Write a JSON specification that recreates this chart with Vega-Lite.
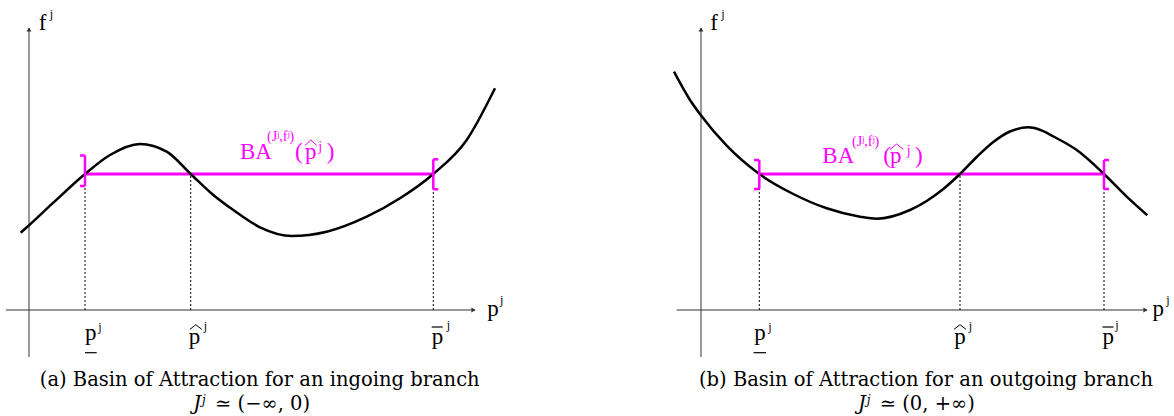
{
  "$schema": "https://vega.github.io/schema/vega-lite/v6.json",
  "padding": 0,
  "spacing": 120,
  "background": "white",
  "config": {"view": {"stroke": null}},
  "datasets": {
    "a": [
      {"k": "axis", "p": -2.3, "f": 0, "p2": 44.6, "f2": 0},
      {"k": "axis", "p": 0, "f": -4.7, "p2": 0, "f2": 28.2},
      {"k": "arr_r", "p": 44.45, "f": 0},
      {"k": "arr_u", "p": 0, "f": 28.05},
      {"k": "dot", "p": 5.6, "f": 0, "p2": 5.6, "f2": 13.6},
      {"k": "dot", "p": 16.17, "f": 0, "p2": 16.17, "f2": 13.6},
      {"k": "dot", "p": 40.43, "f": 0, "p2": 40.43, "f2": 13.6},
      {"k": "ba", "p": 5.6, "f": 13.6, "p2": 40.43, "f2": 13.6},
      {"k": "brk", "p": 5.6, "f": 12.4, "p2": 5.6, "f2": 15.45},
      {"k": "brk", "p": 5.1, "f": 15.45, "p2": 5.6, "f2": 15.45},
      {"k": "brk", "p": 5.1, "f": 12.4, "p2": 5.6, "f2": 12.4},
      {"k": "brk", "p": 40.43, "f": 12.07, "p2": 40.43, "f2": 15.07},
      {"k": "brk", "p": 40.43, "f": 15.07, "p2": 40.93, "f2": 15.07},
      {"k": "brk", "p": 40.43, "f": 12.07, "p2": 40.93, "f2": 12.07},
      {"k": "curve", "p": -0.83, "f": 7.73},
      {"k": "curve", "p": 0.03, "f": 8.5},
      {"k": "curve", "p": 2.43, "f": 10.73},
      {"k": "curve", "p": 5.6, "f": 13.6},
      {"k": "curve", "p": 8.1, "f": 15.5},
      {"k": "curve", "p": 11.1, "f": 16.6},
      {"k": "curve", "p": 13.77, "f": 15.83},
      {"k": "curve", "p": 16.17, "f": 13.6},
      {"k": "curve", "p": 18.43, "f": 11.5},
      {"k": "curve", "p": 20.43, "f": 10.0},
      {"k": "curve", "p": 23.1, "f": 8.27},
      {"k": "curve", "p": 26.27, "f": 7.4},
      {"k": "curve", "p": 29.77, "f": 7.83},
      {"k": "curve", "p": 33.77, "f": 9.33},
      {"k": "curve", "p": 37.1, "f": 11.17},
      {"k": "curve", "p": 40.43, "f": 13.6},
      {"k": "curve", "p": 43.77, "f": 17.0},
      {"k": "curve", "p": 46.6, "f": 22.17},
      {"k": "deco", "p": 5.6, "f": -4.27, "p2": 6.77, "f2": -4.27},
      {"k": "deco", "p": 40.27, "f": -1.7, "p2": 41.37, "f2": -1.7},
      {"k": "hat", "id": "h1", "p": 16.1, "f": -1.93},
      {"k": "hat", "id": "h1", "p": 16.68, "f": -1.47},
      {"k": "hat", "id": "h1", "p": 17.27, "f": -1.93},
      {"k": "hatm", "id": "h2", "p": 27.6, "f": 16.45},
      {"k": "hatm", "id": "h2", "p": 28.18, "f": 17.0},
      {"k": "hatm", "id": "h2", "p": 28.77, "f": 16.45},
      {"k": "lbl", "t": "f", "p": 1.35, "f": 28.0},
      {"k": "lbl", "t": "p", "p": 46.4, "f": -0.6},
      {"k": "lbl", "t": "p", "p": 6.18, "f": -3.0},
      {"k": "lbl", "t": "p", "p": 16.55, "f": -3.35},
      {"k": "lbl", "t": "p", "p": 40.85, "f": -3.35},
      {"k": "sup", "t": "j", "p": 2.23, "f": 29.23},
      {"k": "sup", "t": "j", "p": 47.27, "f": 0.62},
      {"k": "sup", "t": "j", "p": 7.1, "f": -2.05},
      {"k": "sup", "t": "j", "p": 17.63, "f": -2.0},
      {"k": "sup", "t": "j", "p": 41.93, "f": -1.9},
      {"k": "mlbl", "t": "BA", "p": 21.1, "f": 15.1},
      {"k": "mlbl", "t": "(", "p": 26.6, "f": 15.1},
      {"k": "mlbl", "t": "p", "p": 27.6, "f": 15.1},
      {"k": "mlbl", "t": ")", "p": 29.77, "f": 15.1},
      {"k": "msup", "t": "(Jʲ,fʲ)", "p": 23.8, "f": 16.95},
      {"k": "msup", "t": "j", "p": 28.93, "f": 15.95},
      {"k": "cap", "t": "(a) Basin of Attraction for an ingoing branch", "p": 23.07, "f": -7.6},
      {"k": "capJ", "t": "J", "p": 16.43, "f": -10.0},
      {"k": "capj", "t": "j", "p": 17.3, "f": -9.35},
      {"k": "capr", "t": "≃  (−∞, 0)", "p": 18.6, "f": -10.0}
    ],
    "b": [
      {"k": "axis", "p": -2.43, "f": 0, "p2": 44.6, "f2": 0},
      {"k": "axis", "p": 0, "f": -4.7, "p2": 0, "f2": 28.2},
      {"k": "arr_r", "p": 44.45, "f": 0},
      {"k": "arr_u", "p": 0, "f": 28.05},
      {"k": "dot", "p": 5.83, "f": 0, "p2": 5.83, "f2": 13.6},
      {"k": "dot", "p": 25.9, "f": 0, "p2": 25.9, "f2": 13.6},
      {"k": "dot", "p": 40.3, "f": 0, "p2": 40.3, "f2": 13.6},
      {"k": "ba", "p": 5.83, "f": 13.6, "p2": 40.3, "f2": 13.6},
      {"k": "brk", "p": 5.83, "f": 12.1, "p2": 5.83, "f2": 15.0},
      {"k": "brk", "p": 5.3, "f": 15.0, "p2": 5.83, "f2": 15.0},
      {"k": "brk", "p": 5.3, "f": 12.1, "p2": 5.83, "f2": 12.1},
      {"k": "brk", "p": 40.3, "f": 12.1, "p2": 40.3, "f2": 15.0},
      {"k": "brk", "p": 40.3, "f": 15.0, "p2": 40.8, "f2": 15.0},
      {"k": "brk", "p": 40.3, "f": 12.1, "p2": 40.8, "f2": 12.1},
      {"k": "curve", "p": -2.7, "f": 23.83},
      {"k": "curve", "p": -1.1, "f": 21.0},
      {"k": "curve", "p": -0.03, "f": 19.5},
      {"k": "curve", "p": 2.57, "f": 16.43},
      {"k": "curve", "p": 5.83, "f": 13.6},
      {"k": "curve", "p": 9.23, "f": 11.6},
      {"k": "curve", "p": 12.57, "f": 10.17},
      {"k": "curve", "p": 15.9, "f": 9.33},
      {"k": "curve", "p": 17.57, "f": 9.13},
      {"k": "curve", "p": 20.9, "f": 10.0},
      {"k": "curve", "p": 22.57, "f": 10.9},
      {"k": "curve", "p": 24.23, "f": 12.1},
      {"k": "curve", "p": 25.9, "f": 13.6},
      {"k": "curve", "p": 27.57, "f": 15.3},
      {"k": "curve", "p": 29.23, "f": 16.8},
      {"k": "curve", "p": 30.9, "f": 17.85},
      {"k": "curve", "p": 32.73, "f": 18.27},
      {"k": "curve", "p": 35.9, "f": 17.0},
      {"k": "curve", "p": 37.57, "f": 16.0},
      {"k": "curve", "p": 40.3, "f": 13.6},
      {"k": "curve", "p": 42.57, "f": 11.33},
      {"k": "curve", "p": 44.63, "f": 9.47},
      {"k": "deco", "p": 5.25, "f": -4.27, "p2": 6.5, "f2": -4.27},
      {"k": "deco", "p": 40.15, "f": -1.7, "p2": 41.25, "f2": -1.7},
      {"k": "hat", "id": "h1", "p": 25.3, "f": -1.93},
      {"k": "hat", "id": "h1", "p": 25.9, "f": -1.47},
      {"k": "hat", "id": "h1", "p": 26.5, "f": -1.93},
      {"k": "hatm", "id": "h2", "p": 18.9, "f": 16.05},
      {"k": "hatm", "id": "h2", "p": 19.57, "f": 16.6},
      {"k": "hatm", "id": "h2", "p": 20.23, "f": 16.05},
      {"k": "lbl", "t": "f", "p": 1.32, "f": 28.0},
      {"k": "lbl", "t": "p", "p": 45.73, "f": -0.6},
      {"k": "lbl", "t": "p", "p": 5.9, "f": -3.0},
      {"k": "lbl", "t": "p", "p": 25.9, "f": -3.35},
      {"k": "lbl", "t": "p", "p": 40.73, "f": -3.35},
      {"k": "sup", "t": "j", "p": 2.2, "f": 29.23},
      {"k": "sup", "t": "j", "p": 46.7, "f": 0.63},
      {"k": "sup", "t": "j", "p": 6.9, "f": -2.05},
      {"k": "sup", "t": "j", "p": 26.95, "f": -2.0},
      {"k": "sup", "t": "j", "p": 41.6, "f": -1.9},
      {"k": "mlbl", "t": "BA", "p": 12.13, "f": 14.7},
      {"k": "mlbl", "t": "(", "p": 18.23, "f": 14.7},
      {"k": "mlbl", "t": "p", "p": 18.9, "f": 14.7},
      {"k": "mlbl", "t": ")", "p": 21.4, "f": 14.7},
      {"k": "msup", "t": "(Jʲ,fʲ)", "p": 15.1, "f": 16.45},
      {"k": "msup", "t": "j", "p": 20.57, "f": 15.55},
      {"k": "cap", "t": "(b) Basin of Attraction for an outgoing branch", "p": 22.5, "f": -7.6},
      {"k": "capJ", "t": "J", "p": 15.7, "f": -10.0},
      {"k": "capj", "t": "j", "p": 16.57, "f": -9.35},
      {"k": "capr", "t": "≃  (0, +∞)", "p": 17.87, "f": -10.0}
    ]
  },
  "hconcat": [
    {
      "width": 520,
      "height": 416,
      "data": {"name": "a"},
      "encoding": {
        "x": {"field": "p", "type": "quantitative", "axis": null, "scale": {"domain": [-2.9, 49.1], "nice": false, "zero": false}},
        "y": {"field": "f", "type": "quantitative", "axis": null, "scale": {"domain": [-10.6, 31], "nice": false, "zero": false}}
      },
      "layer": [
        {"transform": [{"filter": "datum.k === 'axis'"}], "mark": {"type": "rule", "color": "#333333", "strokeWidth": 1}, "encoding": {"x2": {"field": "p2"}, "y2": {"field": "f2"}}},
        {"transform": [{"filter": "datum.k === 'arr_r'"}], "mark": {"type": "point", "shape": "triangle-right", "filled": true, "color": "#333333", "size": 24, "opacity": 1}},
        {"transform": [{"filter": "datum.k === 'arr_u'"}], "mark": {"type": "point", "shape": "triangle-up", "filled": true, "color": "#333333", "size": 24, "opacity": 1}},
        {"transform": [{"filter": "datum.k === 'dot'"}], "mark": {"type": "rule", "color": "#000000", "strokeWidth": 1, "strokeDash": [2, 2]}, "encoding": {"x2": {"field": "p2"}, "y2": {"field": "f2"}}},
        {"transform": [{"filter": "datum.k === 'ba'"}], "mark": {"type": "rule", "color": "#ff00ff", "strokeWidth": 3}, "encoding": {"x2": {"field": "p2"}, "y2": {"field": "f2"}}},
        {"transform": [{"filter": "datum.k === 'curve'"}], "mark": {"type": "line", "color": "#000000", "strokeWidth": 2.5, "interpolate": "monotone"}},
        {"transform": [{"filter": "datum.k === 'brk'"}], "mark": {"type": "rule", "color": "#ff00ff", "strokeWidth": 2.5}, "encoding": {"x2": {"field": "p2"}, "y2": {"field": "f2"}}},
        {"transform": [{"filter": "datum.k === 'deco'"}], "mark": {"type": "rule", "color": "#000000", "strokeWidth": 1.2}, "encoding": {"x2": {"field": "p2"}, "y2": {"field": "f2"}}},
        {"transform": [{"filter": "datum.k === 'hat'"}], "mark": {"type": "line", "color": "#000000", "strokeWidth": 1}, "encoding": {"detail": {"field": "id"}}},
        {"transform": [{"filter": "datum.k === 'hatm'"}], "mark": {"type": "line", "color": "#ff00ff", "strokeWidth": 1}, "encoding": {"detail": {"field": "id"}}},
        {"transform": [{"filter": "datum.k === 'lbl'"}], "mark": {"type": "text", "font": "Liberation Serif, Times New Roman, serif", "fontSize": 23, "align": "center", "baseline": "alphabetic", "color": "#000000"}, "encoding": {"text": {"field": "t"}}},
        {"transform": [{"filter": "datum.k === 'sup'"}], "mark": {"type": "text", "font": "Liberation Serif, Times New Roman, serif", "fontSize": 12, "align": "center", "baseline": "alphabetic", "color": "#000000"}, "encoding": {"text": {"field": "t"}}},
        {"transform": [{"filter": "datum.k === 'mlbl'"}], "mark": {"type": "text", "font": "Liberation Serif, Times New Roman, serif", "fontSize": 23, "align": "left", "baseline": "alphabetic", "color": "#ff00ff"}, "encoding": {"text": {"field": "t"}}},
        {"transform": [{"filter": "datum.k === 'msup'"}], "mark": {"type": "text", "font": "Liberation Serif, Times New Roman, serif", "fontSize": 14, "align": "left", "baseline": "alphabetic", "color": "#ff00ff"}, "encoding": {"text": {"field": "t"}}},
        {"transform": [{"filter": "datum.k === 'cap'"}], "mark": {"type": "text", "font": "DejaVu Serif, serif", "fontSize": 19.5, "align": "center", "baseline": "alphabetic", "color": "#000000"}, "encoding": {"text": {"field": "t"}}},
        {"transform": [{"filter": "datum.k === 'capJ'"}], "mark": {"type": "text", "font": "DejaVu Serif, serif", "fontStyle": "italic", "fontSize": 19.5, "align": "left", "baseline": "alphabetic", "color": "#000000"}, "encoding": {"text": {"field": "t"}}},
        {"transform": [{"filter": "datum.k === 'capj'"}], "mark": {"type": "text", "font": "DejaVu Serif, serif", "fontStyle": "italic", "fontSize": 12, "align": "left", "baseline": "alphabetic", "color": "#000000"}, "encoding": {"text": {"field": "t"}}},
        {"transform": [{"filter": "datum.k === 'capr'"}], "mark": {"type": "text", "font": "DejaVu Serif, serif", "fontSize": 19.5, "align": "left", "baseline": "alphabetic", "color": "#000000"}, "encoding": {"text": {"field": "t"}}}
      ]
    },
    {
      "width": 534,
      "height": 416,
      "data": {"name": "b"},
      "encoding": {
        "x": {"field": "p", "type": "quantitative", "axis": null, "scale": {"domain": [-6.1, 47.3], "nice": false, "zero": false}},
        "y": {"field": "f", "type": "quantitative", "axis": null, "scale": {"domain": [-10.6, 31], "nice": false, "zero": false}}
      },
      "layer": [
        {"transform": [{"filter": "datum.k === 'axis'"}], "mark": {"type": "rule", "color": "#333333", "strokeWidth": 1}, "encoding": {"x2": {"field": "p2"}, "y2": {"field": "f2"}}},
        {"transform": [{"filter": "datum.k === 'arr_r'"}], "mark": {"type": "point", "shape": "triangle-right", "filled": true, "color": "#333333", "size": 24, "opacity": 1}},
        {"transform": [{"filter": "datum.k === 'arr_u'"}], "mark": {"type": "point", "shape": "triangle-up", "filled": true, "color": "#333333", "size": 24, "opacity": 1}},
        {"transform": [{"filter": "datum.k === 'dot'"}], "mark": {"type": "rule", "color": "#000000", "strokeWidth": 1, "strokeDash": [2, 2]}, "encoding": {"x2": {"field": "p2"}, "y2": {"field": "f2"}}},
        {"transform": [{"filter": "datum.k === 'ba'"}], "mark": {"type": "rule", "color": "#ff00ff", "strokeWidth": 3}, "encoding": {"x2": {"field": "p2"}, "y2": {"field": "f2"}}},
        {"transform": [{"filter": "datum.k === 'curve'"}], "mark": {"type": "line", "color": "#000000", "strokeWidth": 2.5, "interpolate": "monotone"}},
        {"transform": [{"filter": "datum.k === 'brk'"}], "mark": {"type": "rule", "color": "#ff00ff", "strokeWidth": 2.5}, "encoding": {"x2": {"field": "p2"}, "y2": {"field": "f2"}}},
        {"transform": [{"filter": "datum.k === 'deco'"}], "mark": {"type": "rule", "color": "#000000", "strokeWidth": 1.2}, "encoding": {"x2": {"field": "p2"}, "y2": {"field": "f2"}}},
        {"transform": [{"filter": "datum.k === 'hat'"}], "mark": {"type": "line", "color": "#000000", "strokeWidth": 1}, "encoding": {"detail": {"field": "id"}}},
        {"transform": [{"filter": "datum.k === 'hatm'"}], "mark": {"type": "line", "color": "#ff00ff", "strokeWidth": 1}, "encoding": {"detail": {"field": "id"}}},
        {"transform": [{"filter": "datum.k === 'lbl'"}], "mark": {"type": "text", "font": "Liberation Serif, Times New Roman, serif", "fontSize": 23, "align": "center", "baseline": "alphabetic", "color": "#000000"}, "encoding": {"text": {"field": "t"}}},
        {"transform": [{"filter": "datum.k === 'sup'"}], "mark": {"type": "text", "font": "Liberation Serif, Times New Roman, serif", "fontSize": 12, "align": "center", "baseline": "alphabetic", "color": "#000000"}, "encoding": {"text": {"field": "t"}}},
        {"transform": [{"filter": "datum.k === 'mlbl'"}], "mark": {"type": "text", "font": "Liberation Serif, Times New Roman, serif", "fontSize": 23, "align": "left", "baseline": "alphabetic", "color": "#ff00ff"}, "encoding": {"text": {"field": "t"}}},
        {"transform": [{"filter": "datum.k === 'msup'"}], "mark": {"type": "text", "font": "Liberation Serif, Times New Roman, serif", "fontSize": 14, "align": "left", "baseline": "alphabetic", "color": "#ff00ff"}, "encoding": {"text": {"field": "t"}}},
        {"transform": [{"filter": "datum.k === 'cap'"}], "mark": {"type": "text", "font": "DejaVu Serif, serif", "fontSize": 19.5, "align": "center", "baseline": "alphabetic", "color": "#000000"}, "encoding": {"text": {"field": "t"}}},
        {"transform": [{"filter": "datum.k === 'capJ'"}], "mark": {"type": "text", "font": "DejaVu Serif, serif", "fontStyle": "italic", "fontSize": 19.5, "align": "left", "baseline": "alphabetic", "color": "#000000"}, "encoding": {"text": {"field": "t"}}},
        {"transform": [{"filter": "datum.k === 'capj'"}], "mark": {"type": "text", "font": "DejaVu Serif, serif", "fontStyle": "italic", "fontSize": 12, "align": "left", "baseline": "alphabetic", "color": "#000000"}, "encoding": {"text": {"field": "t"}}},
        {"transform": [{"filter": "datum.k === 'capr'"}], "mark": {"type": "text", "font": "DejaVu Serif, serif", "fontSize": 19.5, "align": "left", "baseline": "alphabetic", "color": "#000000"}, "encoding": {"text": {"field": "t"}}}
      ]
    }
  ]
}
